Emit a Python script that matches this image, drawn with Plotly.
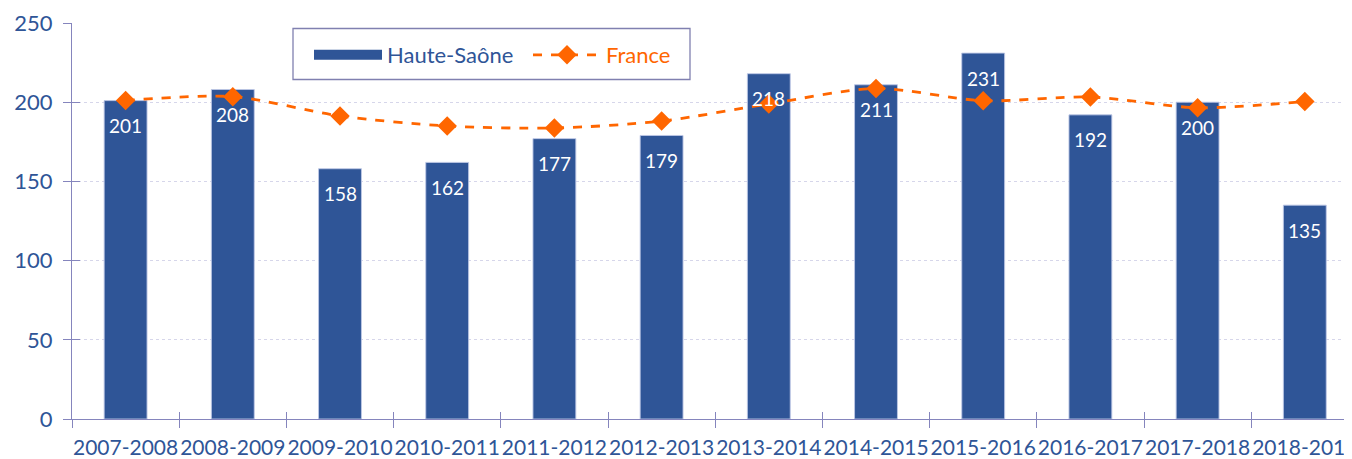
import plotly.graph_objects as go

categories = ["2007-2008", "2008-2009", "2009-2010", "2010-2011", "2011-2012", "2012-2013",
              "2013-2014", "2014-2015", "2015-2016", "2016-2017", "2017-2018", "2018-2019"]
haute_saone = [201, 208, 158, 162, 177, 179, 218, 211, 231, 192, 200, 135]
france = [201.1, 203.5, 191.3, 185.0, 183.7, 188.1, 198.9, 208.7, 200.9, 203.3, 196.5, 200.5]
y_ticks = [0, 50, 100, 150, 200, 250]

BLUE = "#2F5597"
ORANGE = "#FF6600"
AXIS = "#8585BD"
FONT = "Lato"

n = len(categories)
PLOT_W = 1280
xmax = -0.5 + PLOT_W / 107.2

# page offset (browser body margin) compensation
OFF = 8
L, T, B = 72 - OFF, 23 - OFF, 40
W, H = 1352 - OFF, 459 - OFF
PH = H - T - B


def px(xpage):
    return (xpage - 72) / PLOT_W


def py(ypage):
    return (419 - ypage) / PH


fig = go.Figure()
fig.add_trace(go.Bar(
    x=categories, y=haute_saone, width=0.4,
    marker=dict(color=BLUE, line=dict(color="rgba(190,200,230,0.9)", width=1)),
    showlegend=False, hoverinfo="x+y",
))
# legend proxy for bars (wide rectangle symbol)
fig.add_trace(go.Scatter(
    x=[None], y=[None], mode="lines",
    line=dict(color=BLUE, width=13),
    name=f"<span style='color:{BLUE}'>Haute-Saône</span>",
))
fig.add_trace(go.Scatter(
    x=categories, y=france, mode="lines+markers",
    line=dict(color=ORANGE, width=2.8, dash="dash", shape="spline", smoothing=0.8),
    marker=dict(symbol="diamond", size=15, color=ORANGE),
    name=f"<span style='color:{ORANGE}'>France</span>",
))

for c, v in zip(categories, haute_saone):
    fig.add_annotation(x=c, y=v, yshift=-25, text=str(v), showarrow=False,
                       font=dict(family=FONT, size=19, color="white"))

# legend frame
fig.add_shape(type="rect", xref="paper", yref="paper",
              x0=px(293), x1=px(690), y0=py(79.5), y1=py(28.5),
              line=dict(color="#8080B0", width=1.3), fillcolor="rgba(0,0,0,0)", layer="above")

fig.update_layout(
    width=W, height=H,
    margin=dict(l=L, r=0, t=T, b=B, autoexpand=False),
    paper_bgcolor="white", plot_bgcolor="white",
    font=dict(family=FONT, size=21, color=BLUE),
    xaxis=dict(type="category", categoryorder="array", categoryarray=categories,
               range=[-0.5, xmax], showline=True, linecolor=AXIS, linewidth=1.3,
               ticks="outside", tickson="boundaries", ticklen=8, tickcolor=AXIS, tickwidth=1.3,
               showgrid=False, tickangle=0, automargin=False, ticklabelstandoff=10,
               tickfont=dict(family=FONT, size=21, color=BLUE)),
    xaxis2=dict(overlaying="x", anchor="y", range=[-0.5, xmax], showline=False,
                tickmode="array", tickvals=[i - 0.5 for i in range(n + 1)],
                ticks="inside", ticklen=7, tickcolor=AXIS, tickwidth=1.3, automargin=False,
                showticklabels=False, showgrid=False, zeroline=False),
    yaxis=dict(range=[0, 250], tickvals=y_ticks, showline=True, linecolor=AXIS, linewidth=1.3,
               ticks="outside", ticklen=8, tickcolor=AXIS, tickwidth=1.3,
               showgrid=True, gridcolor="#D6D6EA", griddash="dot", gridwidth=1,
               zeroline=False, ticklabelstandoff=6, automargin=False,
               tickfont=dict(family=FONT, size=22, color=BLUE)),
    yaxis2=dict(overlaying="y", anchor="x", range=[0, 250], tickvals=y_ticks,
                ticks="inside", ticklen=8, tickcolor=AXIS, tickwidth=1.3, automargin=False,
                showticklabels=False, showgrid=False, zeroline=False, showline=False),
    legend=dict(orientation="h", x=px(309), y=py(34),
                xanchor="left", yanchor="top", bgcolor="rgba(0,0,0,0)", borderwidth=0,
                font=dict(family=FONT, size=22), itemwidth=68, entrywidth=136),
    showlegend=True,
)
fig.add_trace(go.Scatter(x=[None], y=[None], xaxis="x2", yaxis="y2", showlegend=False, hoverinfo="skip"))

fig.write_html("out.html")
